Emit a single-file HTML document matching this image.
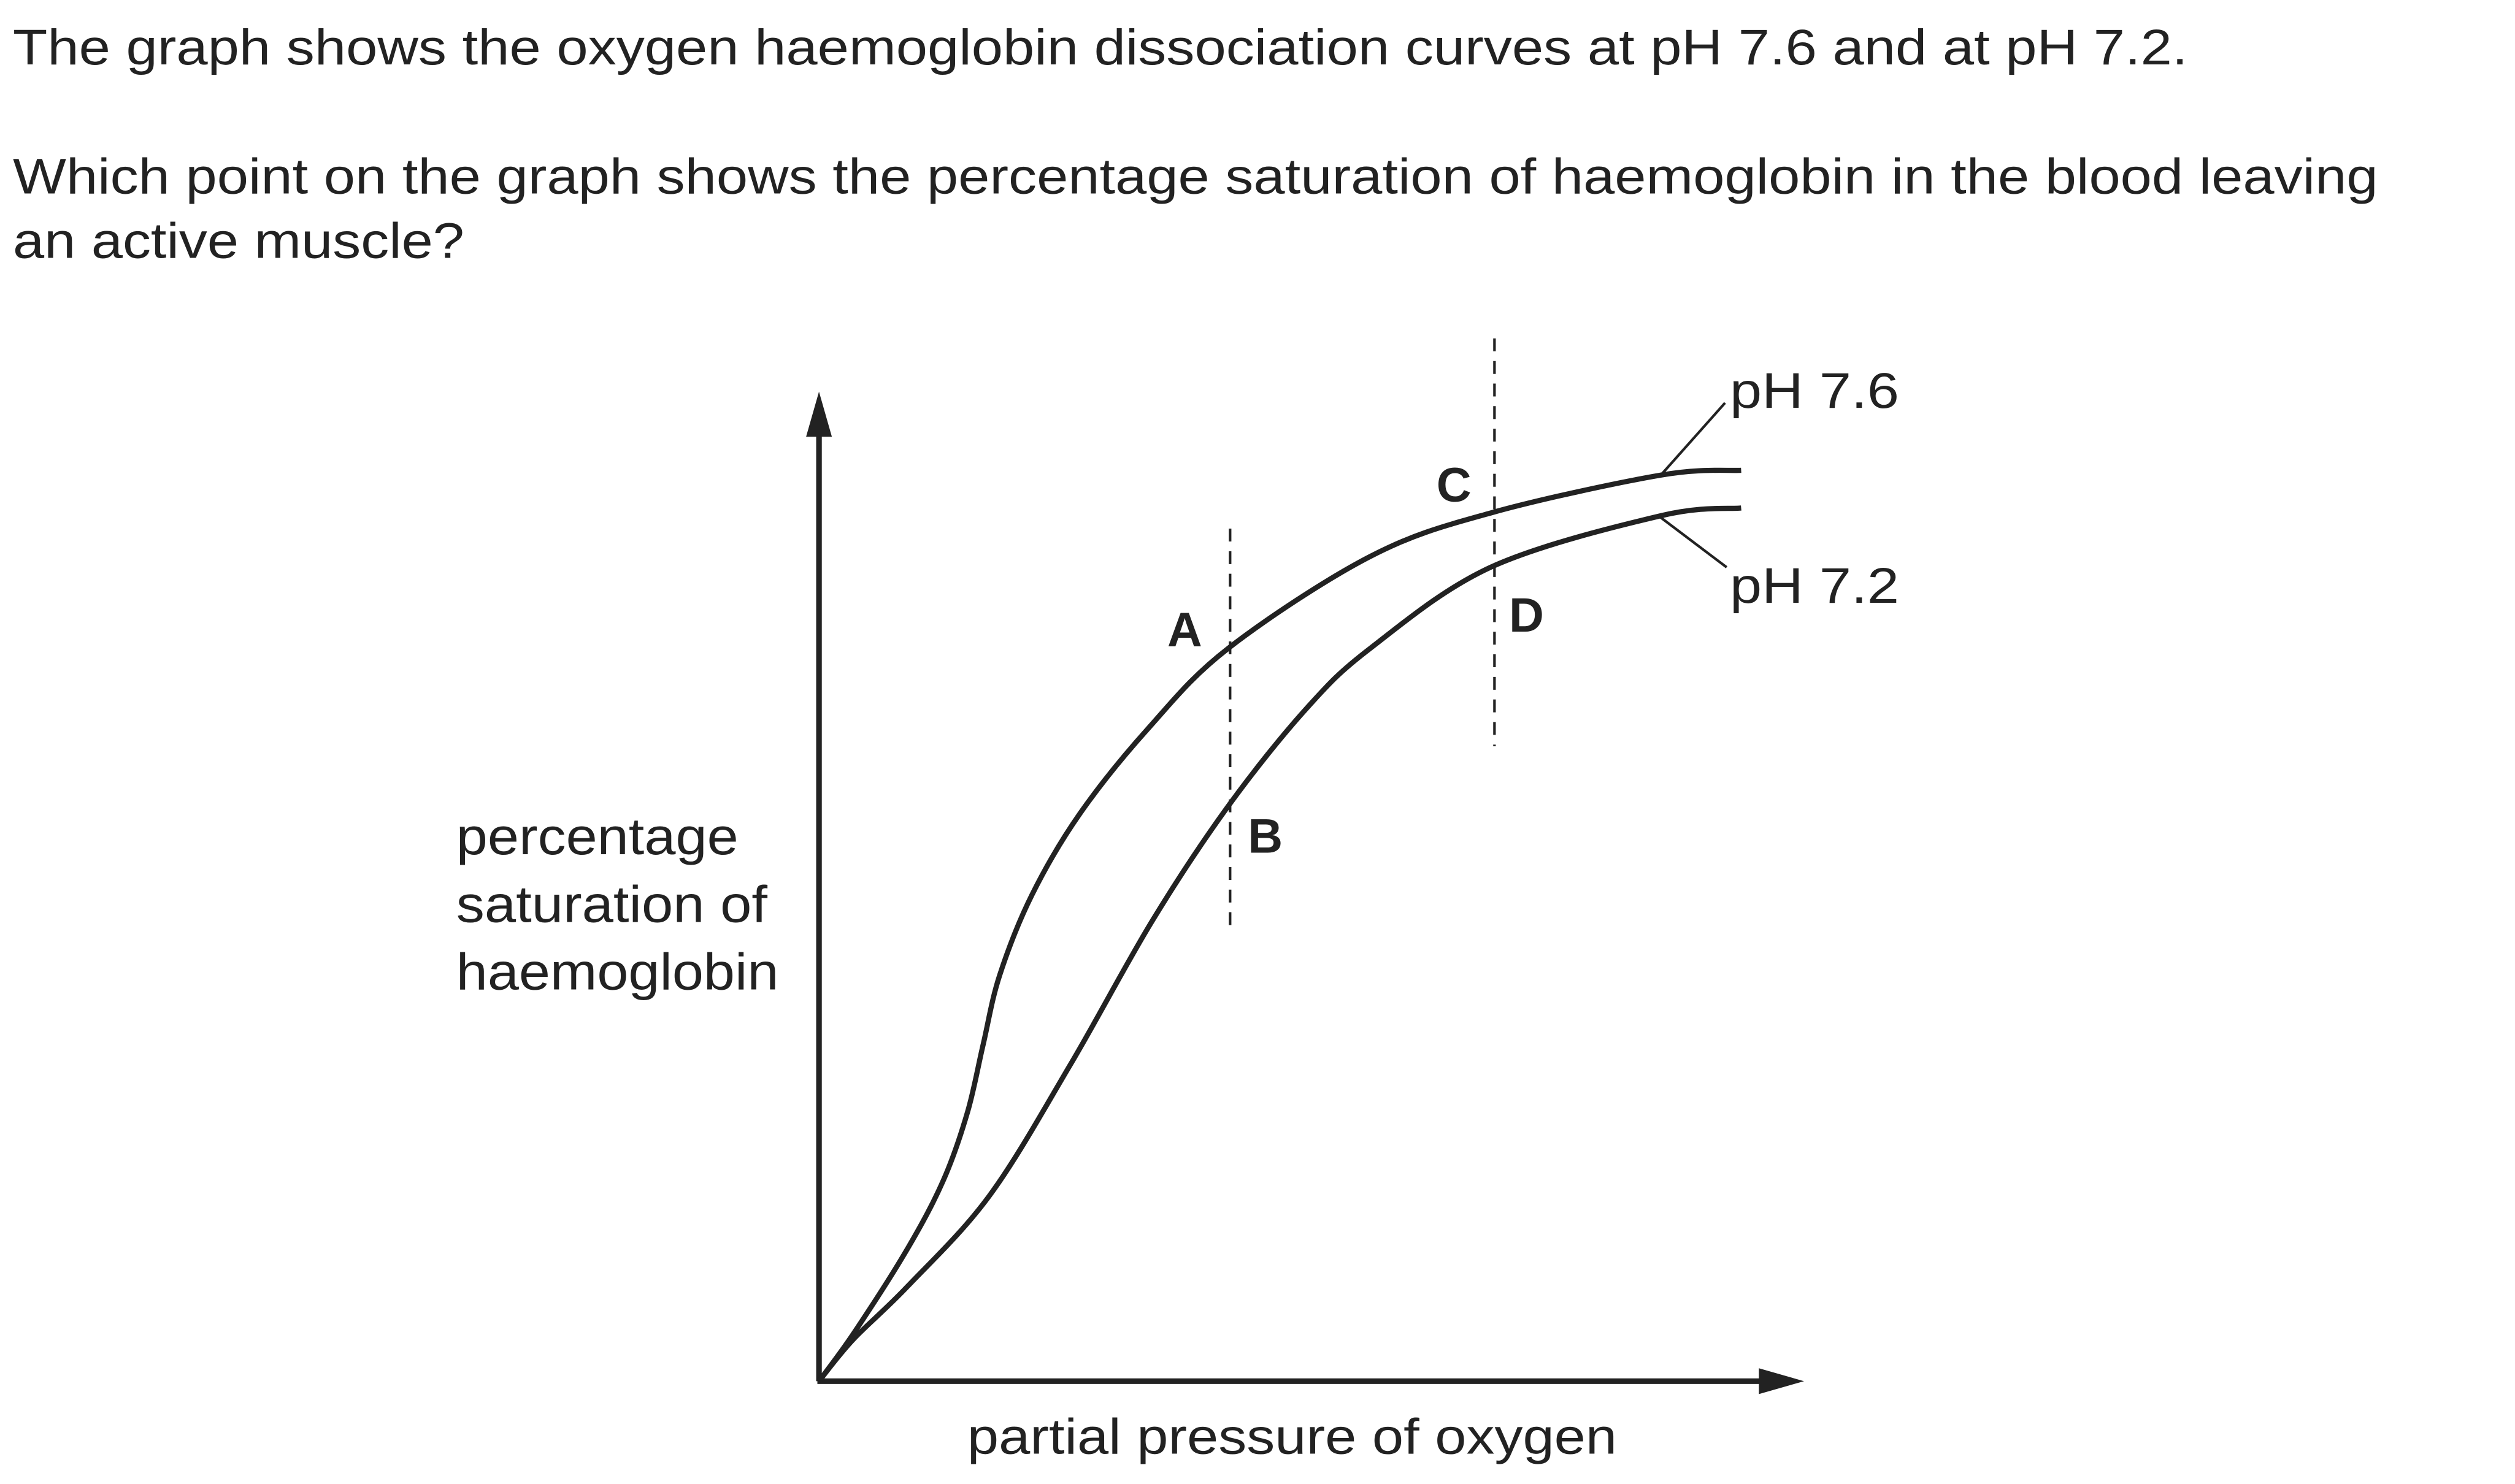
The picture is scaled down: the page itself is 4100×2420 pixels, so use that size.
<!DOCTYPE html>
<html><head><meta charset="utf-8"><style>
html,body{margin:0;padding:0;background:#fff;}
svg{display:block;}
text{font-family:"Liberation Sans",Arial,sans-serif;fill:#222;}
</style></head><body>
<svg id="chart" width="4100" height="2420" viewBox="0 0 1560 920.8" preserveAspectRatio="none" xmlns="http://www.w3.org/2000/svg">
<text x="8" y="40" font-size="31" textLength="1349" lengthAdjust="spacingAndGlyphs">The graph shows the oxygen haemoglobin dissociation curves at pH 7.6 and at pH 7.2.</text>
<text x="8" y="120" font-size="31" textLength="1467" lengthAdjust="spacingAndGlyphs">Which point on the graph shows the percentage saturation of haemoglobin in the blood leaving</text>
<text x="8" y="160" font-size="31" textLength="280" lengthAdjust="spacingAndGlyphs">an active muscle?</text>

<g>
<line x1="508" y1="857" x2="508" y2="268" stroke="#222" stroke-width="3.5"/>
<polygon points="508,243 500,271 516,271" fill="#222"/>
</g>
<g>
<line x1="507" y1="857" x2="1094" y2="857" stroke="#222" stroke-width="3.5"/>
<polygon points="1119,857 1091,849 1091,865" fill="#222"/>
</g>
<text x="283" y="530" font-size="32" textLength="175" lengthAdjust="spacingAndGlyphs">percentage</text>
<text x="283" y="572" font-size="32" textLength="193" lengthAdjust="spacingAndGlyphs">saturation of</text>
<text x="283" y="614" font-size="32" textLength="200" lengthAdjust="spacingAndGlyphs">haemoglobin</text>
<text x="600" y="902" font-size="31" textLength="403" lengthAdjust="spacingAndGlyphs">partial pressure of oxygen</text>

<line x1="763" y1="328" x2="763" y2="580" stroke="#222" stroke-width="1.6" stroke-dasharray="8,6"/>
<line x1="927" y1="210" x2="927" y2="463" stroke="#222" stroke-width="1.6" stroke-dasharray="8,6"/>

<path id="c76" fill="none" stroke="#222" stroke-width="3.2"/>
<path id="c72" fill="none" stroke="#222" stroke-width="3.2"/>

<text x="724" y="401" font-size="30" font-weight="bold">A</text>
<text x="774" y="529" font-size="30" font-weight="bold">B</text>
<text x="891" y="311" font-size="30" font-weight="bold">C</text>
<text x="936" y="392" font-size="30" font-weight="bold">D</text>

<line x1="1030" y1="295" x2="1070" y2="250" stroke="#222" stroke-width="1.6"/>
<line x1="1030" y1="321" x2="1071" y2="352" stroke="#222" stroke-width="1.6"/>
<text x="1073" y="253" font-size="31" textLength="105" lengthAdjust="spacingAndGlyphs">pH 7.6</text>
<text x="1073" y="374" font-size="31" textLength="105" lengthAdjust="spacingAndGlyphs">pH 7.2</text>
</svg>
<script>
const pressure76 = [0, 3.8, 9.6, 13.5, 16.1, 17.8, 19.6, 23.1, 28.3, 35.7, 44.4, 59.8, 72.9, 91.3, 100];
const saturation76 = [0, 5, 13.7, 20.8, 27.8, 34.8, 42, 50.3, 58.7, 67.5, 75.8, 85.3, 89.8, 93.7, 94.2];
const pressure72 = [0, 3.7, 9.6, 18.5, 27.3, 36.2, 44.4, 52.8, 59.8, 72.9, 91.3, 100];
const saturation72 = [0, 4.3, 9.8, 19.2, 32.8, 47.7, 59.5, 69.5, 75.8, 84.2, 89.5, 90.3];

function sx(p){ return 508 + p * 5.72; }
function sy(s){ return 857 - s * 6.0; }
function smooth(xs, ys){
  const pts = xs.map((x,i)=>[sx(x), sy(ys[i])]);
  let d = 'M' + pts[0][0] + ',' + pts[0][1];
  for (let i=0;i<pts.length-1;i++){
    const p0 = pts[Math.max(0,i-1)], p1 = pts[i], p2 = pts[i+1], p3 = pts[Math.min(pts.length-1,i+2)];
    const c1x = p1[0] + (p2[0]-p0[0])/6, c1y = p1[1] + (p2[1]-p0[1])/6;
    const c2x = p2[0] - (p3[0]-p1[0])/6, c2y = p2[1] - (p3[1]-p1[1])/6;
    d += ' C' + c1x + ',' + c1y + ' ' + c2x + ',' + c2y + ' ' + p2[0] + ',' + p2[1];
  }
  return d;
}
document.getElementById('c76').setAttribute('d', smooth(pressure76, saturation76));
document.getElementById('c72').setAttribute('d', smooth(pressure72, saturation72));
</script>
</body></html>
